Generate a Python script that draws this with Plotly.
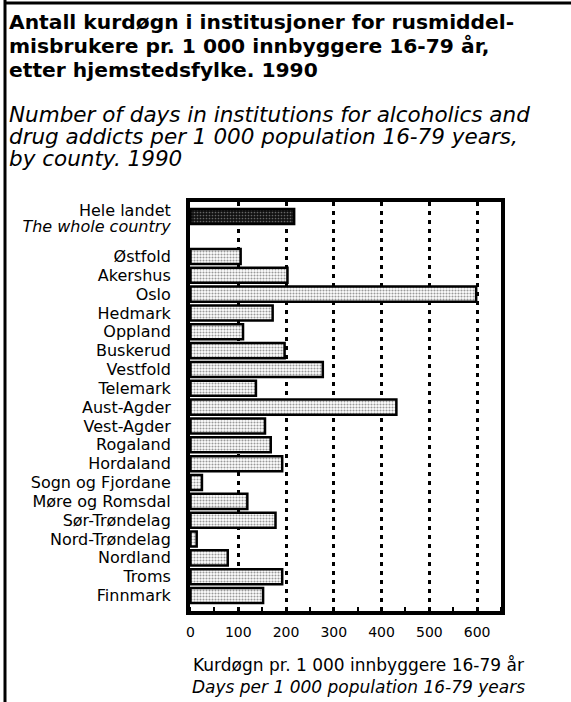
import plotly.graph_objects as go

# ---- data ----
total_label_no = "Hele landet"
total_label_en = "The whole country"
total_value = 217
counties = ["Østfold", "Akershus", "Oslo", "Hedmark", "Oppland", "Buskerud", "Vestfold",
            "Telemark", "Aust-Agder", "Vest-Agder", "Rogaland", "Hordaland",
            "Sogn og Fjordane", "Møre og Romsdal", "Sør-Trøndelag", "Nord-Trøndelag",
            "Nordland", "Troms", "Finnmark"]
county_values = [105, 203, 598, 172, 110, 197, 277, 137, 431, 156,
                 168, 192, 24, 119, 178, 13, 78, 192, 152]
x_ticks = [0, 100, 200, 300, 400, 500, 600]

title_lines = ["Antall kurdøgn i institusjoner for rusmiddel-",
               "misbrukere pr. 1 000 innbyggere 16-79 år,",
               "etter hjemstedsfylke. 1990"]
subtitle_lines = ["Number of days in institutions for alcoholics and",
                  "drug addicts per 1 000 population 16-79 years,",
                  "by county. 1990"]
xtitle_no = "Kurdøgn pr. 1 000 innbyggere 16-79 år"
xtitle_en = "Days per 1 000 population 16-79 years"

# ---- layout geometry ----
W, H = 571, 702
L, R, T, B = 190, 70, 202, 91
pw, ph = W - L - R, H - T - B
GAP = 2.12
total_pos = 0
county_pos = [GAP + i for i in range(len(counties))]

def px_x(p):
    return (p - L) / pw

def px_y(p):
    return (H - B - p) / ph

FONT = "DejaVu Sans, sans-serif"

fig = go.Figure()
fig.add_trace(go.Bar(
    x=[total_value], y=[total_pos], orientation="h", width=0.8,
    marker=dict(color="black", line=dict(color="black", width=2.5),
                pattern=dict(shape=".", bgcolor="#111", fgcolor="#bbb", size=3, solidity=0.25)),
    showlegend=False, hoverinfo="x"))
fig.add_trace(go.Bar(
    x=county_values, y=county_pos, orientation="h", width=0.8,
    marker=dict(color="white", line=dict(color="black", width=2.5),
                pattern=dict(shape=".", bgcolor="white", fgcolor="#333", size=3, solidity=0.4)),
    showlegend=False, hoverinfo="x"))

annotations = []
TS, SS = 20.25, 21.5
for line, base in zip(title_lines, [29.3, 53.0, 76.5]):
    annotations.append(dict(text="<b>" + line + "</b>", xref="paper", yref="paper",
                            x=px_x(7), y=px_y(base - 0.34 * TS), xanchor="left", yanchor="middle",
                            showarrow=False, font=dict(family=FONT, size=TS, color="black")))
for line, base in zip(subtitle_lines, [121.7, 143.8, 166.2]):
    annotations.append(dict(text="<i>" + line + "</i>", xref="paper", yref="paper",
                            x=px_x(7), y=px_y(base - 0.34 * SS), xanchor="left", yanchor="middle",
                            showarrow=False, font=dict(family=FONT, size=SS, color="black")))
annotations.append(dict(text=xtitle_no, xref="paper", yref="paper", x=px_x(358), y=px_y(665),
                        xanchor="center", yanchor="middle", showarrow=False,
                        font=dict(family=FONT, size=17, color="black")))
annotations.append(dict(text="<i>" + xtitle_en + "</i>", xref="paper", yref="paper", x=px_x(358), y=px_y(686.5),
                        xanchor="center", yanchor="middle", showarrow=False,
                        font=dict(family=FONT, size=17, color="black")))

fig.update_layout(
    width=W, height=H,
    margin=dict(l=L, r=R, t=T, b=B),
    paper_bgcolor="white", plot_bgcolor="white",
    font=dict(family=FONT, color="black", size=16),
    xaxis=dict(
        range=[-1, 650], tickvals=x_ticks, ticktext=[str(v) for v in x_ticks],
        showgrid=True, gridcolor="black", gridwidth=2.5, griddash="4px,5px",
        showline=True, linecolor="black", linewidth=4, mirror=True,
        ticks="", zeroline=False, ticklabelstandoff=5,
        minor=dict(ticks="inside", dtick=50, ticklen=4, tickcolor="black", tickwidth=2, showgrid=False),
        tickfont=dict(size=14, family=FONT),
    ),
    yaxis=dict(
        range=[GAP + len(counties) - 1 + 0.82, -0.77],
        tickvals=[total_pos - 0.31, total_pos + 0.53] + county_pos,
        ticktext=[total_label_no, "<i>" + total_label_en + "</i>"] + counties,
        showgrid=False, zeroline=False,
        showline=True, linecolor="black", linewidth=4, mirror=True,
        ticks="", ticklabelstandoff=12,
        tickfont=dict(size=16, family=FONT),
    ),
    annotations=annotations,
    shapes=[
        dict(type="line", xref="paper", yref="paper", x0=px_x(5), x1=px_x(5), y0=px_y(0), y1=px_y(H),
             line=dict(color="black", width=3)),
        dict(type="line", xref="paper", yref="paper", x0=px_x(4), x1=px_x(W), y0=px_y(3), y1=px_y(3),
             line=dict(color="black", width=3)),
    ],
)

fig.write_html("out.html", config={"displayModeBar": False},
               post_script="document.body.style.margin='0px';")
